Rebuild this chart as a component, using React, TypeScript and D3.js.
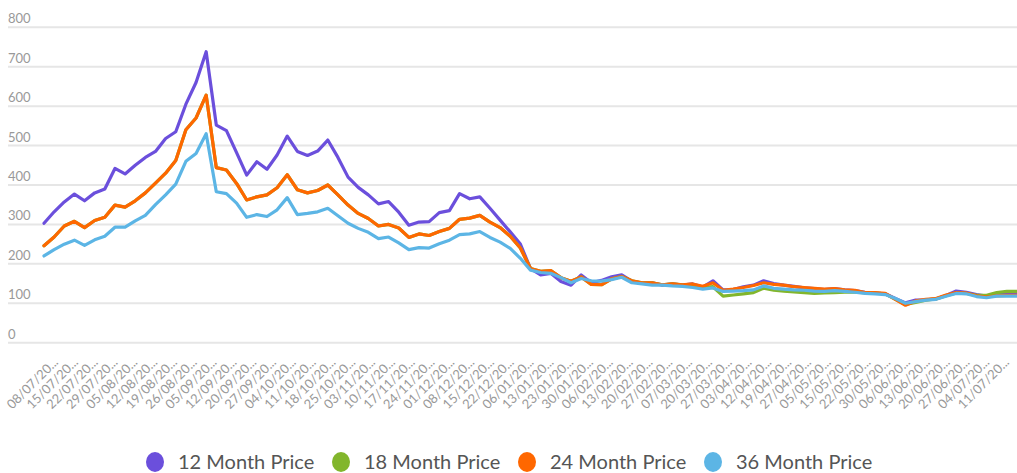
import React from "react";
import * as d3 from "d3";

// x axis labels (truncated like the original)
const dates = [
  "08/07/20...", "15/07/20...", "22/07/20...", "29/07/20...", "05/08/20...", "12/08/20...", "19/08/20...",
  "26/08/20...", "05/09/20...", "12/09/20...", "20/09/20...", "27/09/20...", "04/10/20...", "11/10/20...",
  "18/10/20...", "25/10/20...", "03/11/20...", "10/11/20...", "17/11/20...", "24/11/20...", "01/12/20...",
  "08/12/20...", "15/12/20...", "22/12/20...", "06/01/20...", "13/01/20...", "23/01/20...", "30/01/20...",
  "06/02/20...", "13/02/20...", "20/02/20...", "27/02/20...", "07/03/20...", "20/03/20...", "27/03/20...",
  "03/04/20...", "12/04/20...", "19/04/20...", "27/04/20...", "05/05/20...", "15/05/20...", "22/05/20...",
  "30/05/20...", "06/06/20...", "13/06/20...", "20/06/20...", "27/06/20...", "04/07/20...", "11/07/20...",
];

const yTicks = [0, 100, 200, 300, 400, 500, 600, 700, 800];

const price12 = [
  303, 332, 357, 377, 360, 380, 390, 442, 428, 450,
  470, 485, 518, 535, 605, 660, 738, 552, 538, 482,
  425, 459, 440, 476, 524, 485, 475, 486, 514, 470,
  420, 394, 375, 352, 358, 331, 298, 306, 307, 330,
  335, 378, 365, 370, 341, 311, 281, 250, 188, 172,
  176, 155, 146, 172, 152, 158, 167, 172, 156, 151,
  152, 146, 149, 146, 149, 141, 157, 134, 135, 142,
  146, 157, 150, 146, 143, 139, 137, 135, 137, 134,
  132, 128, 126, 124, 112, 101, 108, 109, 111, 120,
  131, 128, 122, 118, 122, 122, 124,
];

const price18 = [
  246, 268, 296, 308, 292, 310, 318, 349, 344, 360,
  380, 405, 430, 462, 540, 570, 628, 444, 438, 404,
  362, 370, 375, 393, 426, 388, 380, 386, 400, 375,
  349, 328, 315, 296, 300, 291, 267, 276, 272, 282,
  290, 313, 316, 323, 306, 292, 270, 240, 188, 181,
  183, 165, 156, 167, 148, 147, 162, 168, 157, 152,
  152, 147, 149, 147, 146, 140, 142, 118, 121, 124,
  127, 138, 133, 131, 129, 127, 125, 126, 127, 128,
  128, 127, 126, 124, 110, 97, 102, 108, 111, 119,
  126, 125, 120, 120, 127, 130, 130,
];

const price24 = [
  246, 268, 296, 308, 292, 310, 318, 349, 344, 360,
  380, 405, 430, 462, 540, 570, 628, 444, 438, 404,
  362, 370, 375, 393, 426, 388, 380, 386, 400, 375,
  349, 328, 315, 296, 300, 291, 267, 276, 272, 282,
  290, 313, 316, 323, 306, 292, 270, 240, 188, 181,
  183, 165, 156, 167, 148, 147, 162, 168, 157, 152,
  152, 147, 149, 147, 149, 143, 152, 133, 136, 140,
  145, 152, 148, 146, 142, 140, 138, 136, 137, 134,
  133, 127, 127, 125, 110, 95, 106, 110, 112, 121,
  127, 126, 119, 116, 119, 120, 120,
];

const price36 = [
  220, 236, 250, 260, 247, 261, 270, 293, 293, 309,
  323, 350, 375, 402, 460, 480, 530, 383, 378, 354,
  318, 325, 320, 337, 368, 325, 328, 332, 341, 322,
  303, 290, 280, 264, 268, 253, 236, 241, 240, 251,
  260, 274, 276, 282, 267, 255, 239, 214, 184, 178,
  176, 165, 152, 163, 157, 156, 160, 166, 152, 149,
  146, 146, 144, 143, 140, 136, 139, 130, 131, 132,
  134, 144, 138, 136, 134, 133, 131, 130, 132, 130,
  128, 125, 124, 122, 112, 100, 104, 108, 110, 118,
  125, 124, 117, 114, 118, 118, 118,
];

const seriesNames = ["12 Month Price", "18 Month Price", "24 Month Price", "36 Month Price"];
const seriesColors = ["#6b4fdc", "#82b62c", "#ff6700", "#5cb5e5"];
const seriesData = [price12, price18, price24, price36];

const W = 1017;
const H = 473;
const FONT = "Lato, 'Open Sans', sans-serif";

export default function App() {
  const x = d3.scaleLinear().domain([0, price12.length - 1]).range([44, 1017]);
  const y = d3.scaleLinear().domain([0, 800]).range([342.7, 27.3]);
  const xl = d3.scalePoint<string>().domain(dates).range([59, 1010]);

  const line = d3
    .line<number>()
    .x((_, i) => x(i))
    .y((d) => y(d));

  const legendX = [155, 341, 527, 713];

  return (
    <svg
      width={W}
      height={H}
      style={{ position: "absolute", left: 0, top: 0, background: "#fff" }}
      fontFamily={FONT}
    >
      {/* grid + y labels */}
      {yTicks.map((t) => (
        <g key={t}>
          <line x1={8} x2={W} y1={y(t)} y2={y(t)} stroke="#e6e6e6" strokeWidth={2} />
          <text x={8} y={y(t) - 4} fontSize={13} fill="#999">
            {t}
          </text>
        </g>
      ))}

      {/* x labels */}
      {dates.map((d) => (
        <text
          key={d}
          transform={`translate(${xl(d)},363) rotate(-45)`}
          textAnchor="end"
          fontSize={13}
          fill="#999"
        >
          {d}
        </text>
      ))}

      {/* lines */}
      {seriesData.map((s, i) => (
        <path
          key={seriesNames[i]}
          d={line(s) ?? ""}
          fill="none"
          stroke={seriesColors[i]}
          strokeWidth={3.2}
          strokeLinejoin="round"
          strokeLinecap="round"
        />
      ))}

      {/* legend */}
      {seriesNames.map((n, i) => (
        <g key={n} transform={`translate(${legendX[i]},462)`}>
          <ellipse rx={9} ry={10} fill={seriesColors[i]} />
          <text x={23} y={7} fontSize={20} fill="#555">
            {n}
          </text>
        </g>
      ))}
    </svg>
  );
}
